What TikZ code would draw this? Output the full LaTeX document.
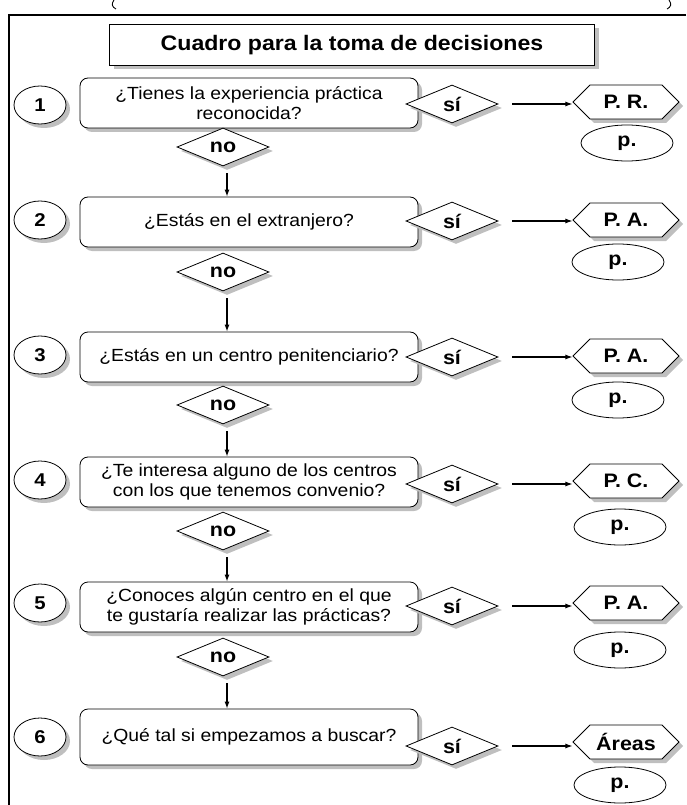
\documentclass[tikz,border=0pt]{standalone}
\usepackage{fontspec}
\setmainfont{Liberation Sans}
\newfontfamily\wide[FakeStretch=1.1]{Liberation Sans}
\usetikzlibrary{shapes.geometric,shapes.symbols,shadows,arrows.meta}
\begin{document}
\begin{tikzpicture}[x=1pt,y=-1pt,
 shad/.style={drop shadow={shadow xshift=4pt,shadow yshift=-4pt,fill=black!25,opacity=1}},
 titlebox/.style={draw,fill=white,minimum width=485pt,minimum height=41pt,line width=0.8pt,font=\wide\bfseries\fontsize{21}{23}\selectfont,shad},
 qbox/.style={draw,rounded corners=8pt,fill=white,minimum width=338pt,minimum height=50pt,align=center,inner sep=0pt,font=\wide\fontsize{17.6}{20}\selectfont,line width=0.8pt,shad},
 num/.style={draw,ellipse,fill=white,minimum width=52pt,minimum height=38pt,inner sep=0pt,line width=0.8pt,font=\wide\bfseries\fontsize{18.5}{20}\selectfont,shad},
 dia/.style={draw,diamond,fill=white,aspect=2.4,inner sep=0pt,minimum width=92pt,minimum height=38pt,line width=0.8pt,font=\wide\bfseries\fontsize{19.5}{20}\selectfont,shad},
 hexa/.style={draw,signal,signal to=west and east,fill=white,minimum width=106pt,minimum height=34pt,inner sep=2pt,line width=0.8pt,font=\wide\bfseries\fontsize{19.5}{20}\selectfont,shad},
 pell/.style={draw,ellipse,fill=white,minimum width=92pt,minimum height=36pt,inner sep=0pt,line width=0.8pt,font=\wide\bfseries\fontsize{19.5}{20}\selectfont},
 arr/.style={-{Latex[length=7pt,width=5pt]},line width=1.1pt},
 frame/.style={line width=1.4pt},
]
\useasboundingbox (0,0) rectangle (686,805);
% clipped fragments of brackets at the top edge
\coordinate (la) at (114,0);
\coordinate (lb) at (116,9);
\coordinate (ra) at (669,0);
\coordinate (rb) at (667,9);
\draw[line width=0.9pt] (la) .. controls (111,4) and (112,7) .. (lb);
\draw[line width=0.9pt] (ra) .. controls (672,4) and (671,7) .. (rb);
% frame
\coordinate (fa) at (686,15);
\coordinate (fb) at (9,15);
\coordinate (fc) at (9,805);
\draw[frame] (fa) -- (fb) -- (fc);
% title
\node[titlebox] (title) at (352,45) {Cuadro para la toma de decisiones};
% row 1
\node[qbox] (b1) at (249,103) {¿Tienes la experiencia práctica\\reconocida?};
\node[num] (c1) at (40,105) {1};
\node[dia] (s1) at (452,104) {sí};
\node[hexa] (h1) at (626,102) {P. R.};
\node[pell] (p1) at (627,143) {p.};
\node[dia] (n1) at (223,147) {no};
% row 2
\node[qbox] (b2) at (249,222) {¿Estás en el extranjero?};
\node[num] (c2) at (40,220) {2};
\node[dia] (s2) at (452,221) {sí};
\node[hexa] (h2) at (626,220) {P. A.};
\node[pell] (p2) at (618,262) {p.};
\node[dia] (n2) at (223,272) {no};
% row 3
\node[qbox] (b3) at (249,357) {¿Estás en un centro penitenciario?};
\node[num] (c3) at (40,355) {3};
\node[dia] (s3) at (452,357) {sí};
\node[hexa] (h3) at (626,356) {P. A.};
\node[pell] (p3) at (618,400) {p.};
\node[dia] (n3) at (223,405) {no};
% row 4
\node[qbox] (b4) at (249,482) {¿Te interesa alguno de los centros\\con los que tenemos convenio?};
\node[num] (c4) at (40,480) {4};
\node[dia] (s4) at (452,484) {sí};
\node[hexa] (h4) at (626,481) {P. C.};
\node[pell] (p4) at (620,527) {p.};
\node[dia] (n4) at (223,531) {no};
% row 5
\node[qbox] (b5) at (249,607) {¿Conoces algún centro en el que\\te gustaría realizar las prácticas?};
\node[num] (c5) at (40,603) {5};
\node[dia] (s5) at (452,606) {sí};
\node[hexa] (h5) at (626,603) {P. A.};
\node[pell] (p5) at (620,650) {p.};
\node[dia] (n5) at (223,657) {no};
% row 6
\node[qbox,minimum height=56pt] (b6) at (249,737) {¿Qué tal si empezamos a buscar?};
\node[num] (c6) at (40,737) {6};
\node[dia] (s6) at (452,746) {sí};
\node[hexa] (h6) at (626,742) {Áreas};
\node[pell] (p6) at (620,785) {p.};
% connectors
\foreach \i in {1,...,6}{
  \draw[arr,shorten <=14pt] (s\i.east) -- (s\i.east -| h\i.west);
}
\foreach \i/\j in {1/2,2/3,3/4,4/5,5/6}{
  \draw[arr,shorten <=7pt] ([xshift=4pt]n\i.south) -- ([xshift=4pt]n\i.south |- b\j.north);
}
\end{tikzpicture}
\end{document}
